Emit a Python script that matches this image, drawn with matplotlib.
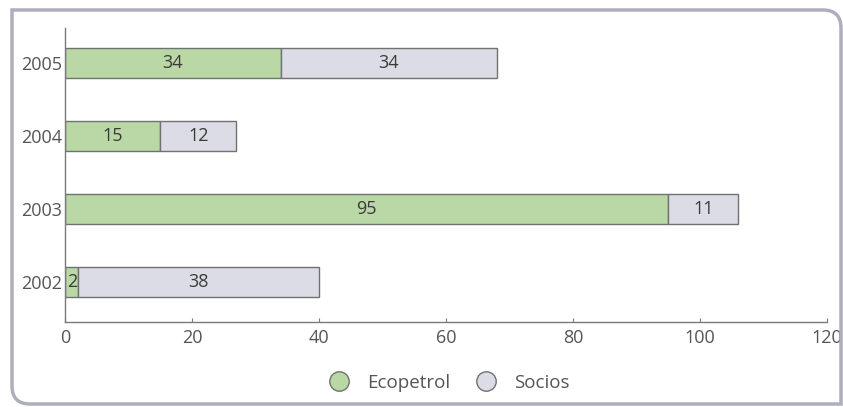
import matplotlib
matplotlib.use("Agg")
import matplotlib.pyplot as plt
from matplotlib.path import Path
from matplotlib.patches import PathPatch
from matplotlib.lines import Line2D

years = ["2002", "2003", "2004", "2005"]
ecopetrol = [2, 95, 15, 34]
socios = [38, 11, 12, 34]
series_names = ["Ecopetrol", "Socios"]
xticks = [0, 20, 40, 60, 80, 100, 120]

green = "#b9d8a6"
grey = "#dcdce6"
edge = "#6f7370"

plt.rcParams['font.family'] = ['Open Sans', 'DejaVu Sans']

fig = plt.figure(figsize=(8.43, 4.07), dpi=100)
fig.patch.set_facecolor("white")

# frame with rounded corners (top-right and bottom-left)
W, H = 843, 407
x0, y0, x1, y1 = 12, 10, 841, 404
r = 18
def fx(x): return x / W
def fy(y): return 1 - y / H
verts = [
    (fx(x0), fy(y0)),
    (fx(x1 - r), fy(y0)),
    (fx(x1), fy(y0)),
    (fx(x1), fy(y0 + r)),
    (fx(x1), fy(y1)),
    (fx(x0 + r), fy(y1)),
    (fx(x0), fy(y1)),
    (fx(x0), fy(y1 - r)),
    (fx(x0), fy(y0)),
    (fx(x0), fy(y0)),
]
codes = [Path.MOVETO, Path.LINETO, Path.CURVE3, Path.CURVE3, Path.LINETO,
         Path.LINETO, Path.CURVE3, Path.CURVE3, Path.LINETO, Path.CLOSEPOLY]
frame = PathPatch(Path(verts, codes), facecolor="none", edgecolor="#aeaebd",
                  linewidth=2.5, joinstyle="miter", transform=fig.transFigure)
fig.patches.append(frame)

ax = fig.add_axes([65 / W, 1 - 322 / H, (827 - 65) / W, (322 - 28) / H])
ypos = list(range(len(years)))
h = 0.41
ax.barh(ypos, ecopetrol, height=h, color=green, edgecolor=edge, linewidth=1.0, label=series_names[0])
ax.barh(ypos, socios, left=ecopetrol, height=h, color=grey, edgecolor=edge, linewidth=1.0, label=series_names[1])

for i in ypos:
    e, s = ecopetrol[i], socios[i]
    ax.text(e / 2 + (0.1 if e <= 3 else 0), i, str(e), ha="center", va="center",
            fontsize=13, color="#3a3a3a")
    ax.text(e + s / 2, i, str(s), ha="center", va="center", fontsize=13, color="#3a3a3a")

ax.set_xlim(0, 120)
ax.set_ylim(-0.55, 3.48)
ax.set_xticks(xticks)
ax.set_yticks(ypos)
ax.set_yticklabels(years)
for sp in ["top", "right"]:
    ax.spines[sp].set_visible(False)
for sp in ["left", "bottom"]:
    ax.spines[sp].set_color("#7a7a7a")
    ax.spines[sp].set_linewidth(1.0)
ax.tick_params(axis="y", length=0, pad=2, labelsize=13, labelcolor="#555555")
ax.tick_params(axis="x", direction="in", length=3, color="#7a7a7a", pad=5,
               labelsize=13, labelcolor="#555555")

handles = [Line2D([], [], marker="o", linestyle="none", markersize=14,
                  markerfacecolor=green, markeredgecolor=edge, markeredgewidth=1.0),
           Line2D([], [], marker="o", linestyle="none", markersize=14,
                  markerfacecolor=grey, markeredgecolor=edge, markeredgewidth=1.0)]
fig.legend(handles, series_names, loc="center", bbox_to_anchor=(445 / W, 1 - 383 / H),
           ncol=2, frameon=False, fontsize=13.5, handletextpad=0.5, columnspacing=0.9,
           labelcolor="#555555")

fig.savefig("out.png", dpi=100, facecolor="white")
